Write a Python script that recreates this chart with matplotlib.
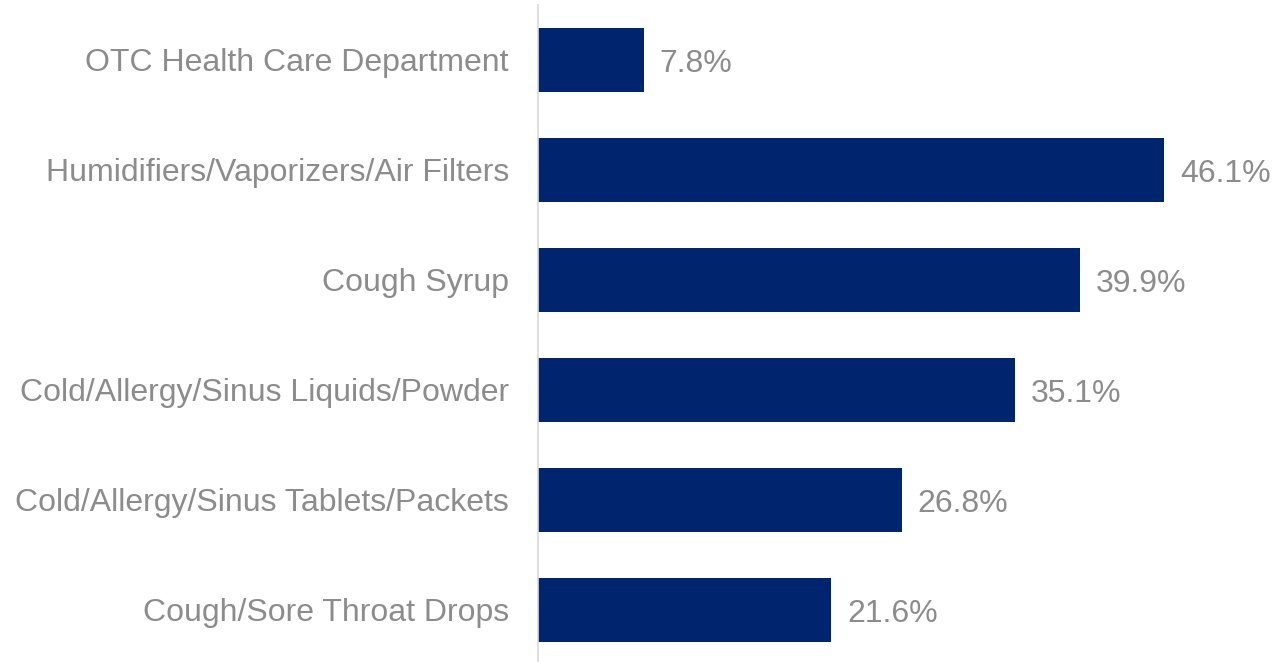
import matplotlib.pyplot as plt

categories = ["OTC Health Care Department",
              "Humidifiers/Vaporizers/Air Filters",
              "Cough Syrup",
              "Cold/Allergy/Sinus Liquids/Powder",
              "Cold/Allergy/Sinus Tablets/Packets",
              "Cough/Sore Throat Drops"]
values = [7.8, 46.1, 39.9, 35.1, 26.8, 21.6]

bar_color = "#00256f"
text_color = "#8c8c8c"

plt.rcParams['font.family'] = ['Liberation Sans', 'DejaVu Sans']

fig = plt.figure(figsize=(12.77, 6.62), dpi=100)
ax = fig.add_axes([538 / 1277, -3 / 662, 739 / 1277, 660 / 662])

y = list(range(len(categories)))
ax.barh(y, values, height=0.58, color=bar_color)
ax.set_ylim(len(categories) - 0.5, -0.5)
ax.set_xlim(0, 54.4)

# value labels next to each bar
for yi, v in zip(y, values):
    ax.text(v + 1.15, yi, f"{v:.1f}%", va='center_baseline', ha='left',
            fontsize=23, color=text_color)

ax.set_yticks(y)
ax.set_yticklabels(categories, fontsize=23, color=text_color)
ax.tick_params(axis='y', length=0, pad=21)
ax.set_xticks([])

for s in ['top', 'right', 'bottom']:
    ax.spines[s].set_visible(False)
ax.spines['left'].set_color('#d9d9d9')
ax.spines['left'].set_linewidth(1.2)

fig.savefig("out.png", dpi=100)
